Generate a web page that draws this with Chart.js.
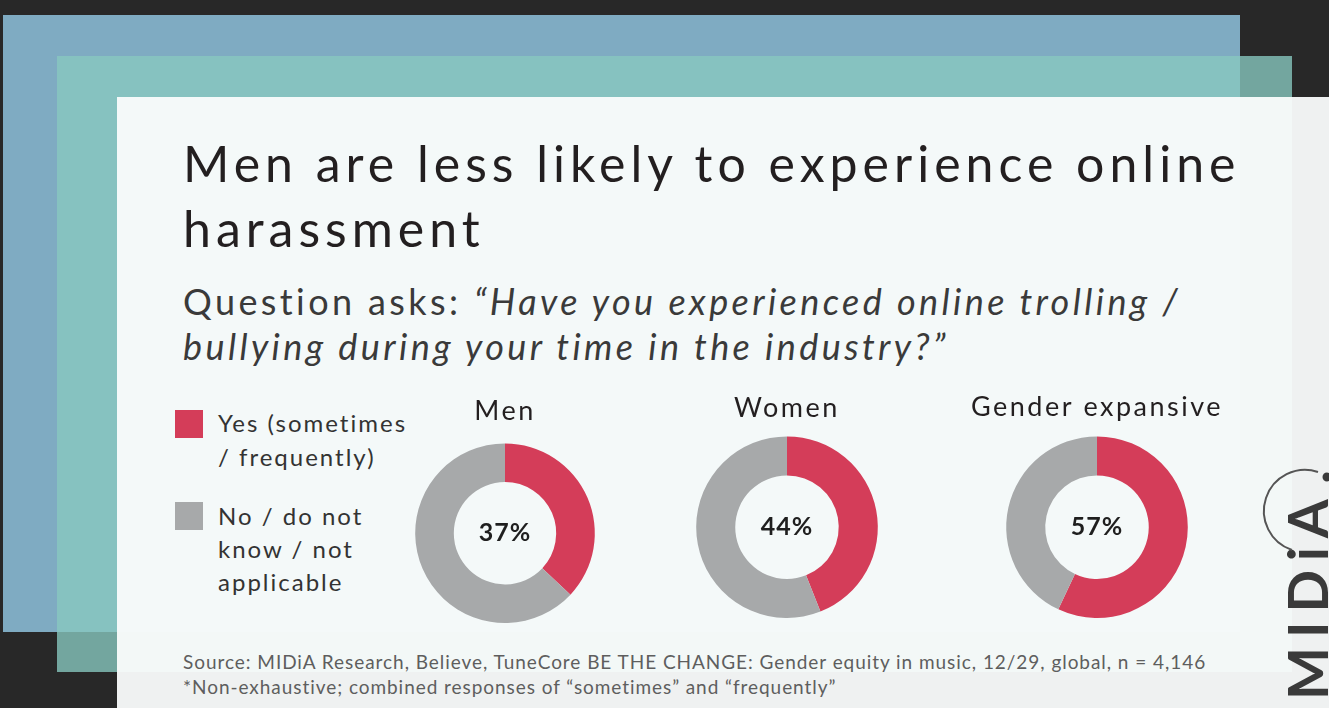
<!DOCTYPE html>
<html>
<head>
<meta charset="utf-8">
<script src="https://cdn.jsdelivr.net/npm/chart.js@4"></script>
<style>
  html, body { margin: 0; padding: 0; }
  body { width: 1329px; height: 708px; background: #282828; position: relative; overflow: hidden; font-family: Lato, "Open Sans", sans-serif; }
  .abs { position: absolute; }
  #blue { left: 3px; top: 15px; width: 1237px; height: 617px; background: #7fabc2; }
  #teal { left: 57px; top: 56px; width: 1235px; height: 616px; background: rgba(136,200,191,0.79); }
  #card { left: 117px; top: 97px; width: 1212px; height: 611px; background: rgba(250,252,252,0.95); }
  #title { left: 183px; top: 131px; font-size: 50px; line-height: 65px; color: #231f20; white-space: nowrap; letter-spacing: 5px; }
  #sub { left: 183px; top: 279px; font-size: 36px; line-height: 45px; color: #3a3a3a; white-space: nowrap; letter-spacing: 3.4px; }
  .leg { left: 175px; }
  .sw { position: absolute; left: 0; width: 28px; height: 28px; }
  .lt { position: absolute; left: 43px; font-size: 24px; color: #333; white-space: nowrap; letter-spacing: 2px; }
  .box { position: absolute; width: 300px; }
  #src { left: 183px; top: 649px; font-size: 19px; line-height: 25px; color: #5e5e5e; white-space: nowrap; letter-spacing: 0.95px; }
  #logo { left: 1279px; top: 700px; font-size: 56px; line-height: 56px; font-weight: bold; color: #3a3a3a; letter-spacing: 9px; transform: rotate(-90deg); transform-origin: 0 0; white-space: nowrap; }
</style>
</head>
<body>
<div id="blue" class="abs"></div>
<div id="teal" class="abs"></div>
<div id="card" class="abs"></div>

<div id="title" class="abs">Men are less likely to experience online<br>harassment</div>
<div id="sub" class="abs">Question asks: <i>“Have you experienced online trolling /<br>bullying during your time in the industry?”</i></div>

<div id="legend"></div>

<div class="box" style="left:355px; top:395px; height:228px;"><canvas id="c0"></canvas></div>
<div class="box" style="left:637px; top:392px; height:226px;"><canvas id="c1"></canvas></div>
<div class="box" style="left:947px; top:391px; height:227px;"><canvas id="c2"></canvas></div>

<div id="src" class="abs">Source: MIDiA Research, Believe, TuneCore BE THE CHANGE: Gender equity in music, 12/29, global, n = 4,146<br>*Non-exhaustive; combined responses of “sometimes” and “frequently”</div>

<div id="logo" class="abs">MIDiA</div>
<svg class="abs" style="left:1250px; top:460px;" width="79" height="110">
  <path d="M 68 12 A 41 41 0 1 0 42 90" fill="none" stroke="#555" stroke-width="2"/>
  <circle cx="77" cy="17" r="4.5" fill="#3a3a3a"/>
</svg>

<script>
// data
const groups = ["Men", "Women", "Gender expansive"];
const yesPct = [37, 44, 57];
const noPct = [63, 56, 43];
const answerLines = [["Yes (sometimes", "/ frequently)"], ["No / do not", "know / not", "applicable"]];

const answerColors = ["#d43d59", "#a7a9aa"];
const titleGap = [16, 12, 13];

// legend
var str = "";
var legTops = [410, 502];
var legText = [406, 499];
var legLH = [34, 33];
for (var i = 0; i < answerLines.length; i++) {
    str += "<div class='abs leg' style='top:" + legTops[i] + "px'>";
    str += "<div class='sw' style='top:0;background:" + answerColors[i] + "'></div></div>";
    str += "<div class='abs leg' style='top:" + legText[i] + "px'>";
    str += "<div class='lt' style='top:0;line-height:" + legLH[i] + "px'>" + answerLines[i].join("<br>") + "</div></div>";
}
document.getElementById("legend").innerHTML = str;

// wider tracking for the chart titles
const spacing = {
    id: "spacing",
    beforeDraw(chart) { chart.ctx.letterSpacing = "2.5px"; }
};

// centre label
const centreText = {
    id: "centreText",
    afterDraw(chart) {
        var arc = chart.getDatasetMeta(0).data[0];
        var ctx = chart.ctx;
        ctx.save();
        ctx.letterSpacing = "1px";
        ctx.font = "bold 25px Lato";
        ctx.fillStyle = "#1f1f1f";
        ctx.textAlign = "center";
        ctx.textBaseline = "middle";
        ctx.fillText(chart.data.datasets[0].data[0] + "%", arc.x, arc.y);
        ctx.restore();
    }
};

for (let k = 0; k < groups.length; k++) {
    new Chart(document.getElementById("c" + k), {
        type: "doughnut",
        data: {
            labels: ["Yes", "No"],
            datasets: [{
                data: [yesPct[k], noPct[k]],
                backgroundColor: answerColors,
                borderWidth: 0,
                hoverOffset: 0,
                offset: 0
            }]
        },
        options: {
            responsive: true,
            maintainAspectRatio: false,
            animation: false,
            cutout: "57%",
            layout: { padding: 0 },
            plugins: {
                legend: { display: false },
                tooltip: { enabled: false },
                title: {
                    display: true,
                    text: groups[k],
                    color: "#231f20",
                    font: { family: "Lato", size: 27, weight: "normal" },
                    padding: { top: 0, bottom: titleGap[k] }
                }
            }
        },
        plugins: [spacing, centreText]
    });
}
</script>
</body>
</html>
